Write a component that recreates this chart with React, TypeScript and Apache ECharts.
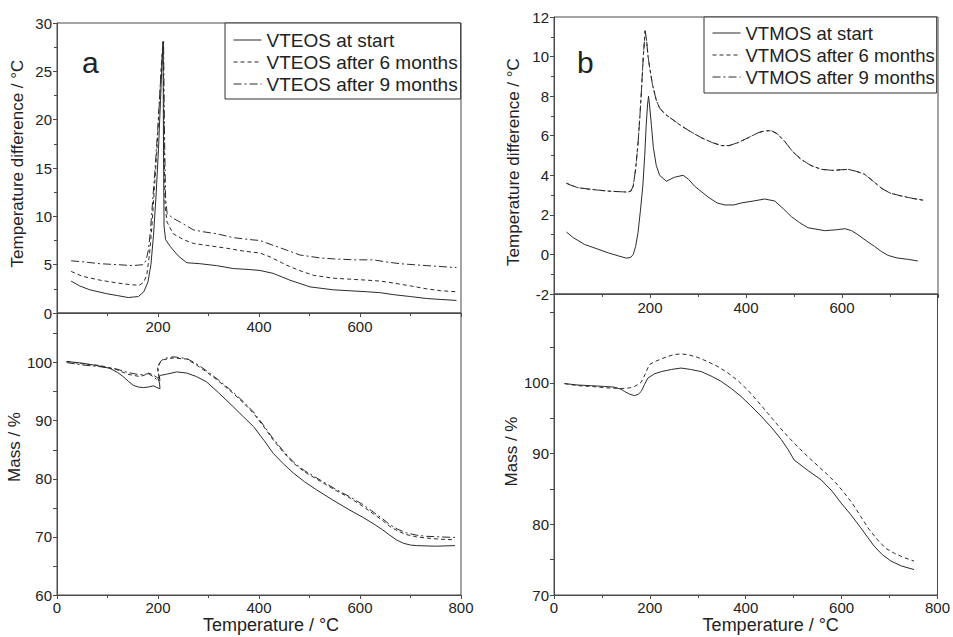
import React, { useEffect, useRef } from "react";
import * as echarts from "echarts";

// ---------- Data (temperature °C, value) ----------
const vteosNames = ["VTEOS at start", "VTEOS after 6 months", "VTEOS after 9 months"];
const vtmosNames = ["VTMOS at start", "VTMOS after 6 months", "VTMOS after 9 months"];

const vteosStartDTA: [number, number][] = [
  [28, 3.3], [45, 2.8], [65, 2.4], [98, 2.0], [120, 1.8], [141, 1.6], [161, 1.7], [172, 2.2], [180, 3.2],
  [186, 5], [191, 8], [196, 12], [201, 17], [205, 22], [208, 26], [210, 28], [211, 16], [212, 9], [215, 7.6],
  [224, 6.9], [240, 5.9], [257, 5.2], [283, 5.1], [316, 4.9], [349, 4.6], [380, 4.5], [402, 4.4], [428, 4.1],
  [461, 3.4], [501, 2.7], [547, 2.4], [580, 2.3], [613, 2.2], [640, 2.1], [666, 1.9], [700, 1.7], [732, 1.5],
  [760, 1.4], [791, 1.3],
];
const vteos6DTA: [number, number][] = [
  [28, 4.3], [50, 3.8], [85, 3.4], [120, 3.1], [150, 2.9], [164, 2.9], [172, 3.2], [178, 4], [183, 6], [188, 9],
  [193, 13], [198, 17], [203, 22], [207, 26], [210, 28.1], [212, 18], [214, 11], [218, 9.4], [230, 8.2],
  [250, 7.6], [270, 7.2], [296, 7.0], [336, 6.7], [370, 6.4], [402, 6.2], [422, 5.8], [445, 5.2], [461, 4.8],
  [485, 4.3], [508, 3.9], [547, 3.6], [580, 3.5], [613, 3.4], [640, 3.3], [666, 3.1], [700, 2.8], [732, 2.5],
  [760, 2.3], [791, 2.2],
];
const vteos9DTA: [number, number][] = [
  [28, 5.4], [50, 5.3], [85, 5.1], [120, 5.0], [150, 4.9], [170, 5.0], [176, 5.4], [181, 6.5], [185, 8.5],
  [190, 12], [195, 15.5], [200, 19.5], [205, 24], [209, 27], [211, 28.2], [213, 18], [215, 12], [218, 10.3],
  [230, 9.8], [244, 9.4], [270, 8.6], [290, 8.4], [316, 8.2], [349, 7.8], [380, 7.6], [402, 7.5], [428, 7.0],
  [455, 6.5], [481, 6.0], [521, 5.7], [547, 5.6], [590, 5.5], [626, 5.5], [650, 5.3], [679, 5.1], [732, 4.9],
  [791, 4.7],
];

const vteosStartTG: [number, number][] = [
  [19, 100.2], [50, 99.9], [85, 99.4], [105, 99.0], [120, 98.3], [131, 97.6], [141, 96.8], [151, 96.1],
  [161, 95.8], [171, 95.7], [181, 95.8], [191, 96.0], [198, 95.7], [204, 95.5], [203, 96.5], [200, 97.3],
  [205, 97.8], [217, 98.0], [237, 98.4], [257, 98.2], [276, 97.6], [296, 96.7], [320, 94.8], [349, 92.4],
  [370, 90.6], [389, 89.0], [410, 86.6], [428, 84.4], [448, 82.6], [468, 81.0], [490, 79.5], [514, 78.1],
  [545, 76.4], [580, 74.6], [605, 73.4], [626, 72.3], [645, 71.2], [659, 70.3], [672, 69.5], [686, 68.9],
  [700, 68.6], [712, 68.5], [750, 68.4], [788, 68.5],
];
const vteos6TG: [number, number][] = [
  [19, 100.2], [50, 99.8], [85, 99.5], [118, 98.8], [140, 98.0], [164, 97.6], [175, 97.9], [181, 98.2],
  [190, 97.9], [197, 97.5], [204, 97.2], [200, 98.3], [199, 99.3], [204, 100.0], [211, 100.5], [230, 100.8],
  [257, 100.6], [276, 99.6], [296, 98.4], [320, 96.8], [349, 94.7], [370, 93.0], [389, 91.3], [410, 88.9],
  [428, 86.7], [448, 84.6], [468, 82.7], [490, 81.2], [521, 79.6], [550, 78.1], [580, 76.7], [605, 75.3],
  [626, 74.0], [645, 72.8], [659, 71.8], [675, 71.0], [692, 70.4], [712, 70.0], [732, 69.8], [760, 69.6],
  [788, 69.5],
];
const vteos9TG: [number, number][] = [
  [19, 100.0], [50, 99.6], [85, 99.3], [118, 98.9], [140, 98.3], [164, 97.9], [175, 98.0], [181, 98.1],
  [190, 97.6], [197, 97.1], [204, 96.9], [201, 98.0], [200, 99.2], [205, 100.2], [212, 100.7], [230, 101.0],
  [257, 100.7], [276, 99.8], [296, 98.6], [320, 97.0], [349, 94.9], [370, 93.2], [389, 91.5], [410, 89.1],
  [428, 86.9], [448, 84.8], [468, 82.9], [490, 81.4], [521, 79.8], [550, 78.3], [580, 76.9], [605, 75.6],
  [626, 74.3], [645, 73.1], [659, 72.1], [675, 71.3], [692, 70.7], [712, 70.3], [732, 70.1], [760, 70.0],
  [788, 69.9],
];

const vtmosStartDTA: [number, number][] = [
  [26, 1.13], [40, 0.85], [64, 0.5], [90, 0.28], [113, 0.08], [135, -0.08], [151, -0.19], [160, -0.15],
  [165, 0], [170, 0.4], [175, 1.1], [180, 2.2], [185, 3.45], [189, 5], [192, 6.5], [195, 7.6], [197, 8.0],
  [200, 7.3], [203, 6.5], [207, 5.4], [213, 4.5], [220, 4.0], [234, 3.7], [251, 3.9], [269, 4.0], [280, 3.8],
  [293, 3.45], [321, 2.9], [340, 2.6], [356, 2.5], [375, 2.5], [390, 2.6], [415, 2.7], [439, 2.8], [460, 2.7],
  [478, 2.3], [495, 1.9], [512, 1.6], [529, 1.35], [564, 1.2], [590, 1.25], [606, 1.3], [620, 1.2], [633, 1.0],
  [650, 0.7], [668, 0.4], [682, 0.15], [696, -0.05], [715, -0.18], [738, -0.25], [758, -0.33],
];
const vtmos6DTA: [number, number][] = [
  [26, 3.6], [35, 3.5], [50, 3.37], [80, 3.28], [113, 3.2], [154, 3.15], [160, 3.2], [165, 3.45], [170, 4.3],
  [175, 5.6], [179, 7], [182, 8.2], [186, 10], [190, 11.3], [193, 10.8], [196, 10], [199, 9.5], [205, 8.6],
  [213, 7.8], [220, 7.4], [231, 7.1], [248, 6.8], [265, 6.5], [285, 6.2], [307, 5.9], [330, 5.65], [349, 5.5],
  [365, 5.5], [383, 5.65], [405, 5.9], [425, 6.15], [440, 6.25], [453, 6.25], [465, 6.1], [481, 5.7],
  [497, 5.2], [515, 4.8], [535, 4.5], [557, 4.3], [580, 4.25], [613, 4.3], [630, 4.2], [647, 4.05], [665, 3.7],
  [682, 3.35], [700, 3.1], [724, 2.95], [750, 2.82], [772, 2.73],
];
const vtmos9DTA: [number, number][] = [
  [26, 3.6], [35, 3.5], [50, 3.37], [80, 3.28], [113, 3.2], [154, 3.15], [160, 3.2], [165, 3.45], [170, 4.3],
  [175, 5.6], [179, 7], [182, 8.2], [186, 10], [190, 11.3], [193, 10.8], [196, 10], [199, 9.5], [205, 8.6],
  [213, 7.8], [220, 7.4], [231, 7.1], [248, 6.8], [265, 6.5], [285, 6.2], [307, 5.9], [330, 5.65], [349, 5.5],
  [365, 5.5], [383, 5.65], [405, 5.9], [425, 6.15], [440, 6.25], [453, 6.25], [465, 6.1], [481, 5.7],
  [497, 5.2], [515, 4.8], [535, 4.5], [557, 4.3], [580, 4.25], [613, 4.3], [630, 4.2], [647, 4.05], [665, 3.7],
  [682, 3.35], [700, 3.1], [724, 2.95], [750, 2.82], [772, 2.73],
];

const vtmosStartTG: [number, number][] = [
  [22, 99.9], [50, 99.7], [78, 99.6], [105, 99.5], [126, 99.4], [140, 99.1], [147, 98.8], [158, 98.4],
  [168, 98.2], [176, 98.4], [182, 98.8], [189, 99.8], [196, 100.7], [210, 101.3], [224, 101.6], [245, 101.9],
  [265, 102.1], [285, 101.9], [307, 101.6], [330, 100.9], [349, 100.2], [370, 99.2], [390, 98.1], [410, 96.8],
  [432, 95.3], [455, 93.6], [474, 92.0], [488, 90.6], [501, 89.1], [530, 87.6], [557, 86.3], [580, 84.7],
  [599, 83.0], [620, 81.3], [640, 79.5], [655, 78.1], [668, 76.9], [685, 75.7], [703, 74.8], [725, 74.1],
  [751, 73.6],
];
const vtmos6TG: [number, number][] = [
  [22, 99.9], [50, 99.6], [78, 99.5], [110, 99.3], [140, 99.2], [158, 99.3], [168, 99.5], [176, 99.8],
  [182, 100.1], [190, 101.2], [199, 102.6], [210, 103.0], [224, 103.4], [240, 103.8], [251, 104.0],
  [265, 104.1], [279, 104.0], [300, 103.6], [321, 103.0], [342, 102.3], [363, 101.4], [384, 100.3],
  [404, 99.0], [425, 97.4], [446, 95.7], [467, 94.0], [488, 92.4], [508, 91.0], [529, 89.6], [550, 88.3],
  [571, 87.0], [590, 85.7], [606, 84.4], [623, 82.9], [640, 81.1], [657, 79.3], [675, 77.8], [692, 76.6],
  [710, 75.9], [730, 75.3], [751, 74.8],
];

// ---------- Styles ----------
const FONT = "'Liberation Sans', Arial, Helvetica, sans-serif";
const AXIS_COLOR = "#4a4a4a";
const TEXT_COLOR = "#222";
const LINE_COLOR = "#2b2b2b";
const DASH = [4, 3];
const DASH_DOT = [8, 3, 2, 3];

function xAxisCfg(gridIndex: number, bottom: boolean, namePad: number) {
  return {
    type: "value",
    gridIndex,
    min: 0,
    max: 800,
    interval: 200,
    name: bottom ? "Temperature / °C" : "",
    nameLocation: "middle",
    nameGap: 19,
    nameTextStyle: { fontSize: 18, color: TEXT_COLOR, fontFamily: FONT, padding: [0, 0, 0, namePad] },
    axisLine: { show: true, onZero: false, lineStyle: { color: AXIS_COLOR, width: 1 } },
    axisTick: { show: true, inside: false, length: 4, lineStyle: { color: AXIS_COLOR } },
    minorTick: { show: true, splitNumber: 2, length: 3, lineStyle: { color: AXIS_COLOR } },
    splitLine: { show: false },
    axisLabel: {
      margin: bottom ? 5 : 6,
      fontSize: 15,
      color: TEXT_COLOR,
      fontFamily: FONT,
      formatter: (v: number) => (bottom ? String(v) : v === 0 || v === 800 ? "" : String(v)),
    },
  };
}

function yAxisCfg(
  gridIndex: number,
  name: string,
  min: number,
  max: number,
  interval: number,
  minor: boolean,
  labelMax: number,
  pad: number[],
  nameGap: number
) {
  return {
    type: "value",
    gridIndex,
    min,
    max,
    interval,
    name,
    nameLocation: "middle",
    nameGap,
    nameTextStyle: { fontSize: 17, color: TEXT_COLOR, fontFamily: FONT, padding: pad },
    axisLine: { show: true, onZero: false, lineStyle: { color: AXIS_COLOR, width: 1 } },
    axisTick: { show: true, inside: false, length: 4, lineStyle: { color: AXIS_COLOR } },
    minorTick: { show: minor, splitNumber: 2, length: 3, lineStyle: { color: AXIS_COLOR } },
    splitLine: { show: false },
    axisLabel: {
      margin: 5,
      fontSize: 15,
      color: TEXT_COLOR,
      fontFamily: FONT,
      formatter: (v: number) => {
        if (v > labelMax + 1e-6) return "";
        if (!minor && Math.abs(v % 10) > 1e-6) return "";
        return String(v);
      },
    },
  };
}

function lineSeries(name: string, data: [number, number][], idx: number, dash: number[] | null) {
  return {
    type: "line",
    name,
    xAxisIndex: idx,
    yAxisIndex: idx,
    data,
    symbol: "none",
    showSymbol: false,
    smooth: false,
    clip: true,
    lineStyle: { color: LINE_COLOR, width: 1, type: dash ? dash : "solid" },
    itemStyle: { color: LINE_COLOR },
    emphasis: { disabled: true },
  };
}

function legendCfg(data: string[], left: number, top: number, padding: number[], fontSize: number) {
  return {
    data,
    orient: "vertical",
    left,
    top,
    padding,
    itemGap: 0,
    itemWidth: 28,
    itemHeight: 14,
    borderColor: "#333",
    borderWidth: 1,
    backgroundColor: "#fff",
    selectedMode: false,
    itemStyle: { opacity: 0, borderWidth: 0 },
    lineStyle: { width: 1 },
    textStyle: { fontSize, lineHeight: 22, color: TEXT_COLOR, fontFamily: FONT },
  };
}

export default function App() {
  const ref = useRef<HTMLDivElement>(null);

  useEffect(() => {
    if (!ref.current) return;
    const chart = echarts.init(ref.current, undefined, { renderer: "svg" });
    const gridStyle = { show: true, borderColor: AXIS_COLOR, borderWidth: 1, backgroundColor: "transparent" };
    const option = {
      animation: false,
      backgroundColor: "#fff",
      grid: [
        { left: 57, top: 23, width: 404, height: 290, ...gridStyle },
        { left: 57, top: 313, width: 404, height: 282, ...gridStyle },
        { left: 554, top: 17, width: 384, height: 277, ...gridStyle },
        { left: 554, top: 294, width: 384, height: 301, ...gridStyle },
      ],
      xAxis: [xAxisCfg(0, false, 0), xAxisCfg(1, true, 24), xAxisCfg(2, false, 0), xAxisCfg(3, true, 50)],
      yAxis: [
        yAxisCfg(0, "Temperature difference / °C", 0, 30, 5, true, 30, [0, 0, 0, 9], 31),
        yAxisCfg(1, "Mass / %", 60, 60 + 282 / 5.81, 5, false, 100, [0, 0, 0, 14], 31),
        yAxisCfg(2, "Temperature difference / °C", -2, 12, 2, true, 12, [0, 13, 0, 0], 32),
        yAxisCfg(3, "Mass / %", 70, 70 + 301 / 7.07, 5, false, 100, [0, 14, 0, 0], 32),
      ],
      legend: [
        legendCfg(vteosNames, 225, 23, [6, 3, 4, 8], 19),
        legendCfg(vtmosNames, 704, 17, [5, 2, 5, 8], 18.5),
      ],
      graphic: [
        { type: "text", x: 82, y: 62.6, style: { text: "a", font: `30px ${FONT}`, fill: TEXT_COLOR, verticalAlign: "middle" } },
        { type: "text", x: 577, y: 62.6, style: { text: "b", font: `30px ${FONT}`, fill: TEXT_COLOR, verticalAlign: "middle" } },
      ],
      series: [
        lineSeries(vteosNames[0], vteosStartDTA, 0, null),
        lineSeries(vteosNames[1], vteos6DTA, 0, DASH),
        lineSeries(vteosNames[2], vteos9DTA, 0, DASH_DOT),
        lineSeries("VTEOS at start (mass)", vteosStartTG, 1, null),
        lineSeries("VTEOS after 6 months (mass)", vteos6TG, 1, DASH),
        lineSeries("VTEOS after 9 months (mass)", vteos9TG, 1, DASH_DOT),
        lineSeries(vtmosNames[0], vtmosStartDTA, 2, null),
        lineSeries(vtmosNames[1], vtmos6DTA, 2, DASH),
        lineSeries(vtmosNames[2], vtmos9DTA, 2, DASH_DOT),
        lineSeries("VTMOS at start (mass)", vtmosStartTG, 3, null),
        lineSeries("VTMOS after 6 months (mass)", vtmos6TG, 3, DASH),
      ],
    };
    chart.setOption(option as any);
    return () => chart.dispose();
  }, []);

  return (
    <div
      ref={ref}
      style={{ position: "fixed", left: 0, top: 0, width: 953, height: 637, background: "#fff" }}
    />
  );
}
